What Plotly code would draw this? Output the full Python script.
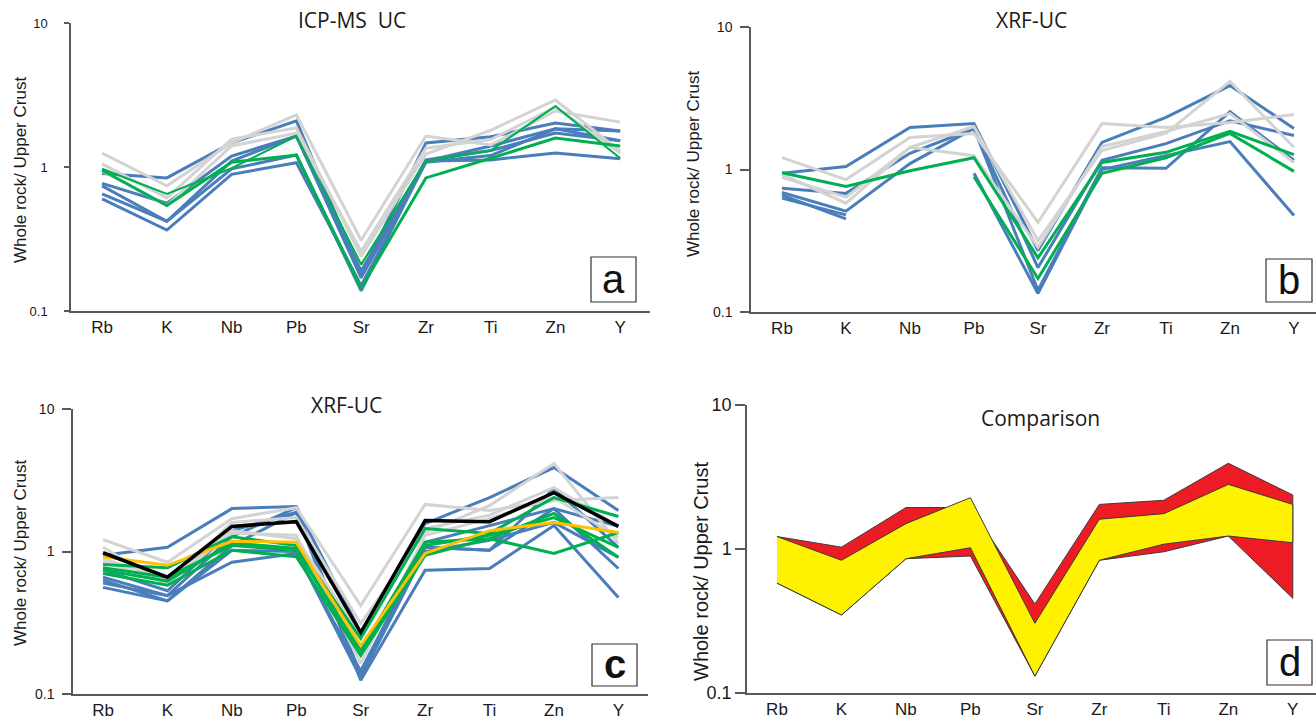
import plotly.graph_objects as go

W, H = 1316, 720
cats = ["Rb", "K", "Nb", "Pb", "Sr", "Zr", "Ti", "Zn", "Y"]
ytick_vals = [0.1, 1, 10]
ytick_text = ["0.1", "1", "10"]

# ---------------- panel a (ICP-MS UC) ----------------
a_blue = [
    [0.90, 0.84, 1.47, 2.09, 0.18, 1.47, 1.62, 2.02, 1.78],
    [0.77, 0.56, 1.19, 1.64, 0.19, 1.10, 1.40, 1.84, 1.78],
    [0.74, 0.42, 1.10, 1.64, 0.17, 1.12, 1.30, 1.72, 1.52],
    [0.65, 0.42, 0.97, 1.21, 0.138, 1.10, 1.12, 1.25, 1.14],
    [0.60, 0.365, 0.89, 1.07, 0.15, 1.08, 1.20, 1.84, 1.52],
]
a_grey = [
    [1.25, 0.74, 1.47, 2.30, 0.31, 1.64, 1.42, 2.45, 2.05],
    [1.05, 0.61, 1.56, 1.87, 0.24, 1.23, 1.80, 2.92, 1.29],
    [0.94, 0.54, 1.40, 1.72, 0.26, 1.35, 1.55, 2.60, 1.25],
]
a_green = [
    [0.95, 0.54, 1.08, 1.21, 0.144, 0.84, 1.15, 1.59, 1.40],
    [0.97, 0.65, 0.98, 1.64, 0.21, 1.10, 1.30, 2.65, 1.15],
]

# ---------------- panel b (XRF-UC) ----------------
b_blue = [
    [0.94, 1.05, 1.97, 2.10, 0.27, 1.55, 2.32, 3.88, 1.94],
    [0.74, 0.68, 1.30, 1.94, 0.205, 1.16, 1.52, 2.20, 1.73],
    [0.69, 0.51, 1.10, 1.94, 0.142, 1.03, 1.02, 2.55, 1.16],
    [0.66, 0.45, None, None, None, None, None, None, None],
    [0.63, 0.48, None, None, None, None, None, None, None],
    [None, None, None, 0.94, 0.135, 1.00, 1.25, 1.57, 0.475],
]
b_grey = [
    [1.21, 0.85, 1.68, 1.79, 0.425, 2.10, 1.97, 2.14, 2.43],
    [0.88, 0.64, 1.43, 2.00, 0.317, 1.36, 1.80, 4.15, 1.43],
    [0.92, 0.58, 1.43, 1.25, 0.284, 1.45, 1.85, 2.47, 1.12],
]
b_green = [
    [0.95, 0.76, 0.98, 1.21, 0.24, 1.12, 1.32, 1.85, 1.27],
    [None, None, None, 0.89, 0.172, 0.94, 1.21, 1.79, 0.97],
]

# ---------------- panel c (XRF-UC, with averages) ----------------
c_blue = [
    [0.94, 1.07, 2.00, 2.07, 0.27, 1.57, 2.39, 3.88, 1.94],
    [0.74, 0.53, 1.40, 1.88, 0.135, 1.07, 1.02, 2.77, 1.07],
    [0.66, 0.49, 1.27, 2.03, 0.135, 1.16, 1.52, 2.00, 0.76],
    [0.63, 0.45, 1.10, 1.88, 0.125, 0.74, 0.76, 1.52, 0.475],
    [0.60, 0.49, 0.84, 0.97, 0.145, 1.07, 1.02, 2.00, 1.50],
    [0.56, 0.45, 1.02, 1.00, 0.13, 1.00, 1.20, 1.60, 0.91],
]
c_grey = [
    [1.21, 0.84, 1.70, 2.03, 0.418, 2.14, 1.94, 2.28, 2.39],
    [1.07, 0.58, 1.60, 1.73, 0.312, 1.36, 2.10, 4.15, 1.14],
    [0.89, 0.64, 1.40, 1.23, 0.26, 1.45, 1.80, 2.81, 1.50],
    [0.85, 0.60, 1.35, 1.30, 0.164, 1.30, 1.70, 2.40, 1.25],
]
c_green = [
    [0.81, 0.77, 1.27, 1.10, 0.245, 1.45, 1.34, 2.39, 1.76],
    [0.77, 0.66, 1.10, 1.02, 0.202, 1.16, 1.23, 0.97, 1.36],
    [0.70, 0.58, 1.02, 0.92, 0.186, 0.94, 1.23, 1.85, 0.91],
    [0.74, 0.62, 1.15, 1.05, 0.19, 1.10, 1.30, 1.73, 1.07],
]
c_orange = [0.92, 0.80, 1.18, 1.16, 0.219, 0.97, 1.40, 1.60, 1.36]
c_black = [0.98, 0.66, 1.50, 1.62, 0.27, 1.65, 1.62, 2.59, 1.50]

# ---------------- panel d (Comparison envelopes) ----------------
d_red_upper = [1.22, 1.03, 1.94, 1.94, 0.415, 2.04, 2.18, 3.94, 2.37]
d_red_lower = [0.58, 0.348, 0.856, 0.894, 0.131, 0.835, 0.957, 1.23, 0.455]
d_yel_upper = [1.22, 0.835, 1.50, 2.27, 0.305, 1.61, 1.76, 2.81, 2.04]
d_yel_lower = [0.58, 0.348, 0.856, 1.02, 0.131, 0.835, 1.08, 1.23, 1.105]

BLUE = "#4a7ebb"
GREEN = "#00b050"
GREY = "#d3d3d3"
ORANGE = "#ffc000"
AXC = "#595959"


def fx(p):
    return p / W


def fy(p):
    return 1 - p / H


# pixel boxes: (x_left, x_right, y_top(10), y_bottom(0.1)), x range
panels = {
    1: dict(box=(71, 650, 23, 311), xr=[-0.48, 8.46], yfs=13, tl=5, ts=14, title="ICP-MS  UC",
            tpos=(352, 20), ytpos=(20, 170), ytfs=17, letter="a", lbox=(591, 636, 257, 302)),
    2: dict(box=(751, 1316, 27, 312), xr=[-0.484, 8.344], yfs=14, tl=9, ts=5, title="XRF-UC",
            tpos=(1031, 20), ytpos=(694, 164), ytfs=17, letter="b", lbox=(1266, 1312, 259, 302)),
    3: dict(box=(73, 648, 409, 694), xr=[-0.466, 8.46], yfs=14, tl=9, ts=5, title="XRF-UC",
            tpos=(346, 405), ytpos=(20, 553), ytfs=17, letter="c", lbox=(592, 637, 644, 686)),
    4: dict(box=(747, 1316, 405, 693), xr=[-0.465, 8.36], yfs=18, tl=10, ts=0, title="Comparison",
            tpos=(1040, 418), ytpos=(701, 572), ytfs=20, letter="d", lbox=(1267, 1312, 640, 685)),
}

fig = go.Figure()


def ax(i):
    return ("x" if i == 1 else f"x{i}"), ("y" if i == 1 else f"y{i}")


def add_lines(i, series, color, width=3):
    xa, ya = ax(i)
    for s in series:
        fig.add_trace(go.Scatter(x=cats, y=s, mode="lines", line=dict(color=color, width=width),
                                 xaxis=xa, yaxis=ya, showlegend=False, hoverinfo="skip",
                                 connectgaps=False))


add_lines(1, a_blue, BLUE)
add_lines(1, a_grey, GREY)
add_lines(1, a_green[:1], GREEN)
add_lines(1, a_green[1:], GREEN, 2.2)

add_lines(2, b_blue, BLUE)
add_lines(2, b_grey, GREY)
add_lines(2, b_green, GREEN)

add_lines(3, c_blue, BLUE)
add_lines(3, c_grey, GREY)
add_lines(3, c_green, GREEN)
add_lines(3, [c_orange], ORANGE)
add_lines(3, [c_black], "#000000", 3.5)

xa4, ya4 = ax(4)
fig.add_trace(go.Scatter(x=cats + cats[::-1], y=d_red_upper + d_red_lower[::-1], mode="lines",
                         fill="toself", fillcolor="#ed1c24", line=dict(color="#3a3a3a", width=1),
                         xaxis=xa4, yaxis=ya4, showlegend=False, hoverinfo="skip"))
fig.add_trace(go.Scatter(x=cats + cats[::-1], y=d_yel_upper + d_yel_lower[::-1], mode="lines",
                         fill="toself", fillcolor="#fff200", line=dict(color="#3a3a3a", width=1),
                         xaxis=xa4, yaxis=ya4, showlegend=False, hoverinfo="skip"))

layout = dict(width=W, height=H, autosize=False, margin=dict(l=0, r=0, t=0, b=0, pad=0),
              template="none",
              paper_bgcolor="white", plot_bgcolor="rgba(0,0,0,0)", showlegend=False)
annotations = []
shapes = []
for i, p in panels.items():
    x0, x1, y0, y1 = p["box"]
    xn = "xaxis" if i == 1 else f"xaxis{i}"
    yn = "yaxis" if i == 1 else f"yaxis{i}"
    xa, ya = ax(i)
    layout[xn] = dict(domain=[fx(x0), min(fx(x1), 1.0)], anchor=ya, type="category",
                      categoryorder="array", categoryarray=cats, range=p["xr"],
                      automargin=False,
                      showline=True, linecolor=AXC, linewidth=1.5, showgrid=False,
                      zeroline=False, ticks="", ticklabelstandoff=0,
                      tickfont=dict(family="Liberation Sans, Arial", size=17, color="#1a1a1a"))
    layout[yn] = dict(domain=[fy(y1), fy(y0)], anchor=xa, type="log", range=[-1, 1],
                      automargin=False,
                      tickvals=ytick_vals, ticktext=ytick_text, showline=True, linecolor=AXC,
                      linewidth=1.5, showgrid=False, zeroline=False, ticks="outside",
                      ticklen=p["tl"], tickcolor=AXC, tickwidth=1.5,
                      ticklabelstandoff=p["ts"],
                      tickfont=dict(family="Liberation Sans, Arial", size=p["yfs"], color="#1a1a1a"))
    tx, ty = p["tpos"]
    annotations.append(dict(text=p["title"], x=fx(tx), y=fy(ty), xref="paper", yref="paper",
                            showarrow=False, xanchor="center", yanchor="middle",
                            font=dict(family="Open Sans", size=21, color="#1a1a1a")))
    yx, yy = p["ytpos"]
    annotations.append(dict(text="Whole rock/ Upper Crust", x=fx(yx), y=fy(yy), xref="paper",
                            yref="paper", showarrow=False, textangle=-90, xanchor="center",
                            yanchor="middle",
                            font=dict(family="Liberation Sans, Arial", size=p["ytfs"], color="#1a1a1a")))
    lx0, lx1, ly0, ly1 = p["lbox"]
    shapes.append(dict(type="rect", xref="paper", yref="paper", x0=fx(lx0), x1=fx(lx1),
                       y0=fy(ly1), y1=fy(ly0), line=dict(color="#333333", width=1.2),
                       fillcolor="white"))
    letter = "<b>c</b>" if p["letter"] == "c" else p["letter"]
    annotations.append(dict(text=letter, x=fx((lx0 + lx1) / 2), y=fy((ly0 + ly1) / 2 - 1),
                            xref="paper", yref="paper", showarrow=False, xanchor="center",
                            yanchor="middle",
                            font=dict(family="Liberation Sans, Arial", size=40, color="#111111")))

layout["annotations"] = annotations
layout["shapes"] = shapes
fig.update_layout(**layout)
fig.write_html("out.html")
